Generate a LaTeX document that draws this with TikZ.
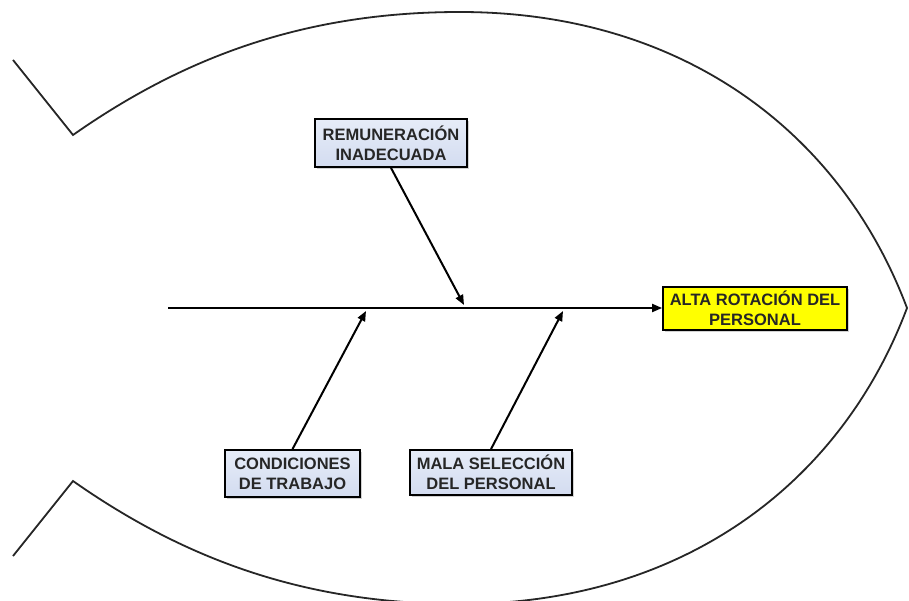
\documentclass[tikz,border=0pt]{standalone}
\usepackage{fontspec}
\setmainfont{Liberation Sans}
\usetikzlibrary{arrows.meta,shadows}
\definecolor{boxblue}{HTML}{D3DCF0}
\definecolor{boxblueT}{HTML}{E6ECF8}
\definecolor{headyellow}{HTML}{FFFF00}
\tikzset{
  cause/.style={draw=black, line width=1.8pt, top color=boxblueT, bottom color=boxblue,
    drop shadow={shadow xshift=2pt, shadow yshift=-2pt, fill=black!35},
    align=center, inner sep=0pt, font=\fontsize{16.5}{20}\selectfont\bfseries, text=black!85},
  effect/.style={draw=black, line width=1.8pt, fill=headyellow,
    drop shadow={shadow xshift=2pt, shadow yshift=-2pt, fill=black!35},
    align=center, inner sep=0pt, font=\fontsize{16.5}{20}\selectfont\bfseries, text=black!85},
  fishline/.style={line width=1.8pt, black!85, line join=miter},
  bone/.style={line width=2pt, black, -{Triangle[length=10pt,width=8pt]}},
}
\begin{document}
\begin{tikzpicture}[x=1pt,y=-1pt]
\useasboundingbox (0,0) rectangle (909,601);
\fill[white] (0,0) rectangle (909,601);
% fish outline
\draw[fishline] (13,60) -- (73,135)
  .. controls (180,60) and (300,12) .. (460,12)
  .. controls (680,12) and (840,130) .. (907,308)
  .. controls (840,486) and (680,604) .. (460,604)
  .. controls (300,604) and (180,556) .. (73,481)
  -- (13,556);
% nodes
\node[cause, minimum width=152pt, minimum height=48pt] (rem) at (391,143) {REMUNERACIÓN\\INADECUADA};
\node[effect, minimum width=184pt, minimum height=43pt] (head) at (755,308.5) {ALTA ROTACIÓN DEL\\PERSONAL};
\node[cause, minimum width=135pt, minimum height=47pt] (cond) at (292.5,473.5) {CONDICIONES\\DE TRABAJO};
\node[cause, minimum width=162pt, minimum height=45pt] (mala) at (491,472.5) {MALA SELECCIÓN\\DEL PERSONAL};
% spine
\coordinate (tail) at (168,308);
\coordinate (p1) at (464,305);
\coordinate (p2) at (366,311);
\coordinate (p3) at (563,311);
\draw[bone] (tail) -- (head.west |- tail);
\draw[bone] (rem.south) -- (p1);
\draw[bone] (cond.north) -- (p2);
\draw[bone] (mala.north) -- (p3);
\end{tikzpicture}
\end{document}
